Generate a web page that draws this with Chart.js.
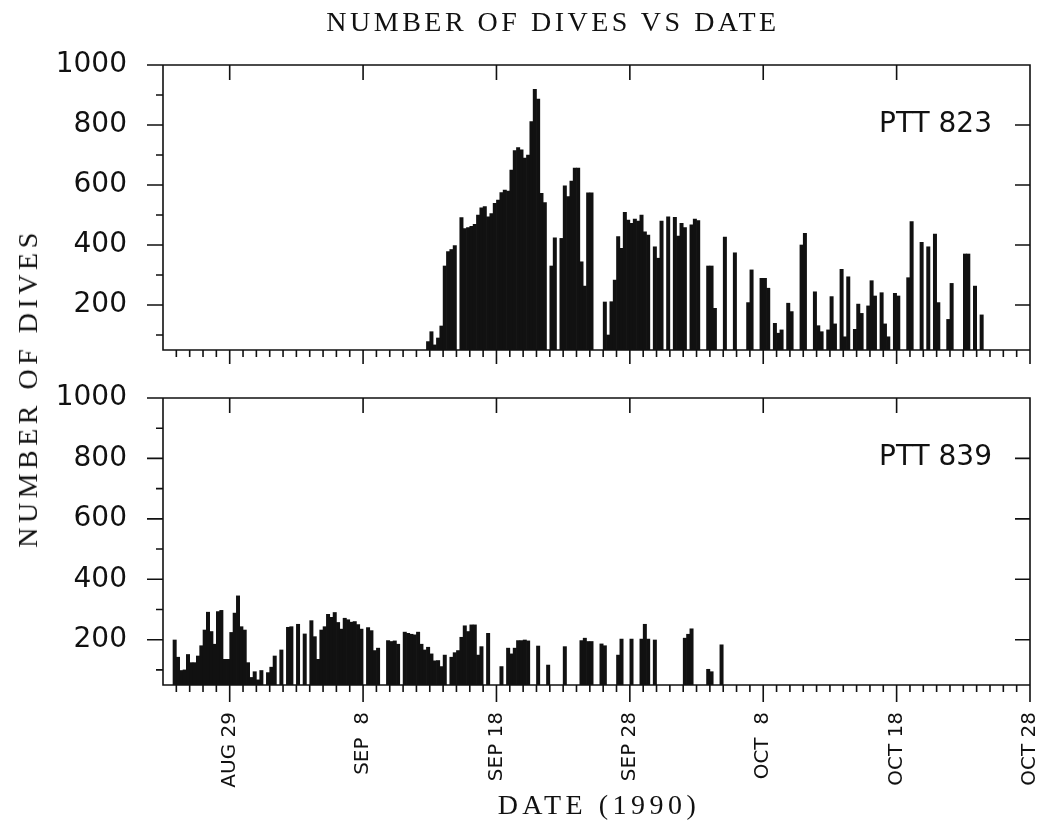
<!DOCTYPE html>
<html>
<head>
<meta charset="utf-8">
<script src="https://cdn.jsdelivr.net/npm/chart.js@4.4.0/dist/chart.umd.min.js"></script>
<style>
  body { margin: 0; background: #fff; }
  #wrap { position: relative; width: 1039px; height: 835px; overflow: hidden; }
  .serif { position: absolute; font-family: "Liberation Serif", "Times New Roman", serif; font-size: 28px; color: #111; white-space: nowrap; }
  #title { left: 553px; top: 22px; letter-spacing: 3.5px; transform: translate(-50%, -50%); }
  #ytitle { left: 28px; top: 388px; letter-spacing: 4.5px; transform: translate(-50%, -50%) rotate(-90deg); }
  #xtitle { left: 599px; top: 805px; letter-spacing: 4.5px; transform: translate(-50%, -50%); }
  canvas { position: absolute; left: 0; }
  #top { top: 0; }
  #bottom { top: 380px; }
</style>
</head>
<body>
<div id="wrap">
  <canvas id="top" width="1039" height="372"></canvas>
  <canvas id="bottom" width="1039" height="455"></canvas>
  <div class="serif" id="title">NUMBER OF DIVES VS DATE</div>
  <div class="serif" id="ytitle">NUMBER OF DIVES</div>
  <div class="serif" id="xtitle">DATE (1990)</div>
</div>
<script>
// x is counted in days from Aug 1 1990 (Aug 29 = 29, Sep 8 = 39 ...)
const binWidth = 0.25; // 6-hour bins
const majorDays = [29, 39, 49, 59, 69, 79, 89];
const majorLabels = ['AUG 29', 'SEP  8', 'SEP 18', 'SEP 28', 'OCT  8', 'OCT 18', 'OCT 28'];
const yTicks = [200, 400, 600, 800, 1000];

// PTT 823, first bin starts Sep 12 18h
const ptt823Start = 43.75;
const ptt823 = [
  78, 111, 67, 90, 130, 330, 378, 385, 398, null,
  491, 455, 458, 462, 469, 500, 524, 528, 494, 505,
  539, 550, 575, 583, 580, 650, 715, 725, 717, 690,
  700, 811, 919, 886, 572, 541, null, 330, 424, null,
  422, 597, 561, 613, 656, 656, 344, 263, 574, 574,
  null, null, null, 210, 100, 211, 283, 428, 389, 509,
  483, 472, 486, 480, 500, 444, 433, null, 394, 356,
  480, null, 494, null, 492, 430, 472, 458, null, 467,
  486, 481, null, null, 330, 330, 189, null, null, 426,
  null, null, 374, null, null, null, 208, 317, null, null,
  289, 289, 256, null, 139, 106, 117, null, 206, 178,
  null, null, 400, 439, null, null, 244, 131, 111, null,
  117, 228, 137, null, 319, 94, 294, null, 119, 203,
  172, null, 197, 281, 230, null, 241, 137, 94, null,
  239, 230, null, null, 291, 478, null, null, 409, null,
  394, null, 436, 208, null, null, 152, 272, null, null,
  null, 370, 370, null, 263, null, 167
];

// PTT 839, first bin starts Aug 24 18h
const ptt839Start = 24.75;
const ptt839 = [
  199, 142, 98, 100, 151, 124, 124, 146, 180, 232,
  291, 227, 185, 293, 297, 135, 135, 224, 288, 345,
  243, 232, 124, 75, 94, 67, 98, null, 91, 109,
  146, null, 166, null, 241, 243, null, 251, null, 219,
  null, 263, 210, 135, 232, 243, 284, 274, 290, 257,
  235, 271, 266, 258, 260, 250, 235, null, 240, 230,
  164, 172, null, null, 197, 194, 196, 185, null, 225,
  221, 218, 216, 225, 185, 166, 175, 153, 130, 131,
  111, 149, null, 142, 157, 164, 208, 246, 227, 249,
  249, 149, 177, null, 221, null, null, null, 111, null,
  172, 153, 172, 197, 197, 199, 196, null, null, 179,
  null, null, 116, null, null, null, null, 177, null, null,
  null, null, 197, 205, 194, 194, null, null, 186, 180,
  null, null, null, 149, 202, null, null, 202, null, null,
  202, 251, 202, null, 199, null, null, null, null, null,
  null, null, null, 205, 218, 236, null, null, null, null,
  102, 94, null, null, 183
];

const ink = '#111';

// box around the plot plus the tick marks of the old plotter style
const frame = {
  id: 'frame',
  afterDatasetsDraw(chart, args, opts) {
    const { ctx, chartArea: a, scales: { x, y } } = chart;
    ctx.save();
    ctx.strokeStyle = ink;
    ctx.lineWidth = 1.6;
    ctx.beginPath();
    ctx.rect(a.left, a.top, a.right - a.left, a.bottom - a.top);
    for (let v = 100; v <= 1000; v += 100) {
      const py = y.getPixelForValue(v);
      const len = v % 200 === 0 ? 16 : 7;
      ctx.moveTo(a.left - len, py);
      ctx.lineTo(a.left, py);
    }
    yTicks.slice(0, -1).forEach(v => {
      const py = y.getPixelForValue(v);
      ctx.moveTo(a.right - 15, py);
      ctx.lineTo(a.right, py);
    });
    majorDays.slice(0, -1).forEach(d => {
      const px = x.getPixelForValue(d);
      ctx.moveTo(px, a.top);
      ctx.lineTo(px, a.top + 15);
    });
    for (let d = 25; d <= 89; d++) {
      const px = x.getPixelForValue(d);
      const len = majorDays.includes(d) ? opts.majorLen : 7;
      ctx.moveTo(px, a.bottom);
      ctx.lineTo(px, a.bottom + len);
    }
    ctx.stroke();
    ctx.fillStyle = ink;
    ctx.font = '28px "DejaVu Sans"';
    ctx.textAlign = 'right';
    ctx.textBaseline = 'middle';
    ctx.fillText(opts.label, a.right - 38, a.top + 60);
    ctx.restore();
  }
};

// keep the plot box fixed: no extra room for end labels
function noPad(s) {
  s.paddingTop = 0;
  s.paddingBottom = 0;
  s.paddingLeft = 0;
  s.paddingRight = 0;
}

function makeChart(id, start, values, label, padTop, axisHeight, showDates, majorLen) {
  return new Chart(document.getElementById(id), {
    type: 'bar',
    data: {
      datasets: [{
        data: values.map((v, i) => ({ x: start + i * binWidth + binWidth / 2, y: v })),
        backgroundColor: ink,
        borderWidth: 0,
        barPercentage: 1,
        categoryPercentage: 1
      }]
    },
    options: {
      responsive: false,
      animation: false,
      layout: { padding: { top: padTop, right: 9, left: 0, bottom: 0 } },
      plugins: {
        legend: { display: false },
        tooltip: { enabled: false },
        frame: { label: label, majorLen: majorLen }
      },
      scales: {
        x: {
          type: 'linear',
          offset: false,
          min: 24,
          max: 89,
          afterBuildTicks: s => { s.ticks = majorDays.map(v => ({ value: v })); },
          afterFit: s => { s.height = axisHeight; noPad(s); },
          grid: { display: false, drawTicks: false },
          border: { display: false },
          ticks: {
            display: showDates,
            autoSkip: false,
            minRotation: 90,
            maxRotation: 90,
            padding: 27,
            color: ink,
            font: { family: 'DejaVu Sans', size: 20 },
            callback: v => majorLabels[majorDays.indexOf(v)]
          }
        },
        y: {
          min: 50,
          max: 1000,
          afterBuildTicks: s => { s.ticks = yTicks.map(v => ({ value: v })); },
          afterFit: s => { s.width = 163; noPad(s); },
          grid: { display: false, drawTicks: false },
          border: { display: false },
          ticks: {
            padding: 36,
            color: ink,
            font: { family: 'DejaVu Sans', size: 28 },
            callback: v => String(v)
          }
        }
      }
    },
    plugins: [frame]
  });
}

makeChart('top', ptt823Start, ptt823, 'PTT 823', 65, 22, false, 14);
makeChart('bottom', ptt839Start, ptt839, 'PTT 839', 18, 150, true, 17);
</script>
</body>
</html>
